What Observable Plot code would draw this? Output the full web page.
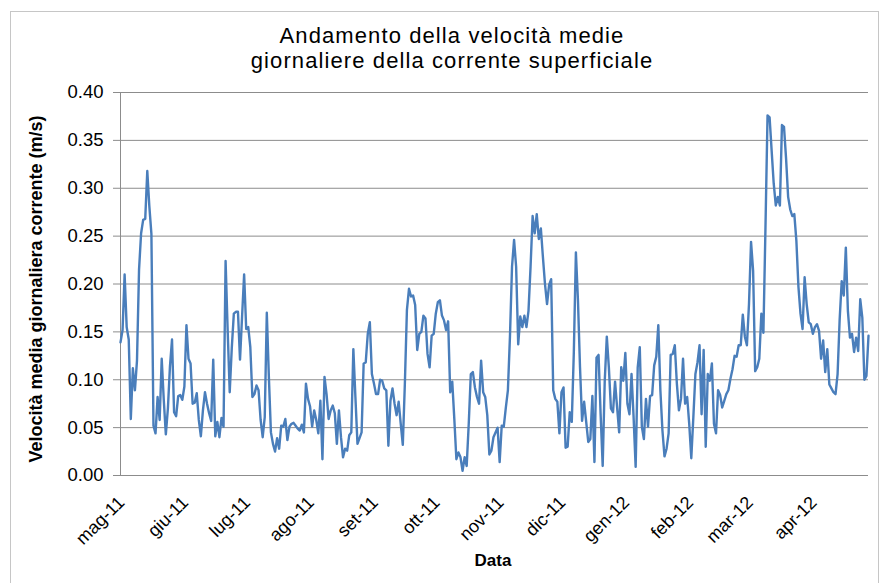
<!DOCTYPE html>
<html><head><meta charset="utf-8">
<script src="https://cdn.jsdelivr.net/npm/d3@7"></script>
<script src="https://cdn.jsdelivr.net/npm/@observablehq/plot@0.6"></script>
<style>
body{margin:0;background:#fff;font-family:"Liberation Sans",Arial,sans-serif;}
#wrap{position:relative;width:883px;height:583px;overflow:hidden;background:#fff}
#frame{position:absolute;left:10px;top:11px;width:869px;height:600px;border:1px solid #c6c6c6;box-sizing:border-box}
#title{position:absolute;left:0;width:904px;top:23px;text-align:center;font-size:22px;letter-spacing:1.1px;line-height:25px;color:#000}
#ylab{position:absolute;left:-164px;top:278px;width:400px;height:22px;line-height:22px;text-align:center;font-size:18px;font-weight:bold;transform:rotate(-90deg);transform-origin:200px 11px}
#xlab{position:absolute;left:443px;width:100px;top:551px;text-align:center;font-size:17px;font-weight:bold}
#chart{position:absolute;left:0;top:80px}
</style></head>
<body>
<div id="wrap">
  <div id="frame"></div>
  <div id="title">Andamento della velocità medie<br>giornaliere della corrente superficiale</div>
  <div id="chart"></div>
  <div id="ylab">Velocità media giornaliera corrente (m/s)</div>
  <div id="xlab">Data</div>
</div>
<script>
// daily mean surface-current speed (m/s), consecutive days from 1 May 2011
const startDate = Date.UTC(2011, 4, 1);
// May – end of June 2011
const v1 = [0.139,0.152,0.21,0.155,0.142,0.059,0.112,0.089,0.12,0.215,0.253,0.267,0.268,0.318,0.281,0.252,0.052,0.044,0.082,0.058,0.122,0.079,0.043,0.07,0.114,0.142,0.066,0.062,0.083,0.084,0.079,0.093,0.157,0.122,0.117,0.075,0.076,0.086,0.058,0.041,0.068,0.087,0.075,0.065,0.057,0.121,0.041,0.056,0.04,0.06,0.051,0.224,0.152,0.087,0.133,0.169,0.171,0.171,0.121,0.166,0.21];
// July – August 2011
const v2 = [0.153,0.155,0.134,0.082,0.085,0.094,0.089,0.058,0.04,0.061,0.17,0.103,0.045,0.033,0.025,0.039,0.028,0.052,0.051,0.059,0.037,0.051,0.054,0.055,0.052,0.049,0.047,0.053,0.045,0.096,0.08,0.072,0.051,0.068,0.058,0.044,0.078,0.017,0.103,0.085,0.059,0.068,0.073,0.065,0.033,0.068,0.04,0.019,0.028,0.026,0.042,0.045,0.132,0.082,0.033,0.039,0.045,0.117,0.118,0.148,0.16];
// September – October 2011
const v3 = [0.106,0.096,0.085,0.085,0.10,0.099,0.091,0.089,0.031,0.078,0.091,0.075,0.063,0.077,0.054,0.032,0.096,0.173,0.195,0.187,0.188,0.178,0.131,0.148,0.15,0.167,0.164,0.127,0.113,0.146,0.148,0.169,0.181,0.183,0.167,0.162,0.152,0.161,0.087,0.098,0.059,0.017,0.024,0.019,0.005,0.019,0.01,0.054,0.106,0.108,0.092,0.082,0.075,0.12,0.087,0.082,0.063,0.022,0.026,0.04,0.045];
// November – December 2011
const v4 = [0.05,0.014,0.052,0.051,0.071,0.089,0.145,0.218,0.246,0.218,0.137,0.166,0.155,0.167,0.155,0.172,0.218,0.271,0.253,0.273,0.247,0.258,0.228,0.20,0.179,0.199,0.205,0.089,0.08,0.077,0.044,0.087,0.092,0.029,0.03,0.066,0.056,0.129,0.233,0.183,0.113,0.057,0.077,0.056,0.035,0.038,0.083,0.014,0.123,0.126,0.064,0.01,0.099,0.145,0.113,0.07,0.066,0.098,0.071,0.045,0.113];
// January – February 2012
const v5 = [0.099,0.128,0.075,0.064,0.106,0.061,0.009,0.113,0.134,0.051,0.038,0.08,0.051,0.083,0.084,0.115,0.124,0.157,0.089,0.047,0.02,0.028,0.044,0.126,0.127,0.136,0.096,0.068,0.08,0.122,0.075,0.082,0.054,0.018,0.061,0.106,0.118,0.136,0.064,0.131,0.03,0.106,0.099,0.117,0.054,0.044,0.089,0.084,0.071,0.078,0.085,0.089,0.101,0.111,0.125,0.124,0.136,0.136,0.168,0.145,0.136];
// March – April 2012
const v6 = [0.179,0.244,0.214,0.109,0.113,0.122,0.169,0.149,0.259,0.376,0.374,0.339,0.305,0.282,0.291,0.282,0.366,0.364,0.331,0.291,0.278,0.271,0.273,0.245,0.197,0.169,0.153,0.207,0.179,0.16,0.158,0.148,0.155,0.158,0.151,0.122,0.141,0.108,0.132,0.095,0.091,0.087,0.085,0.106,0.163,0.203,0.188,0.238,0.172,0.144,0.148,0.129,0.144,0.13,0.184,0.165,0.10,0.104,0.146];

const monthNames = ["gen","feb","mar","apr","mag","giu","lug","ago","set","ott","nov","dic"];
const monthTicks = [[2011,4],[2011,5],[2011,6],[2011,7],[2011,8],[2011,9],[2011,10],[2011,11],[2012,0],[2012,1],[2012,2],[2012,3]];
const yTicks = [0,0.05,0.10,0.15,0.20,0.25,0.30,0.35,0.40];

const values = [...v1, ...v2, ...v3, ...v4, ...v5, ...v6];
const data = values.map((v, i) => ({date: new Date(startDate + i * 86400000), v}));
const tickDates = monthTicks.map(([y, m]) => new Date(Date.UTC(y, m, 1)));
const fmt = d => monthNames[d.getUTCMonth()] + "-" + String(d.getUTCFullYear()).slice(2);

const grid = "#8c8c8c";
const chart = Plot.plot({
  width: 883, height: 503,
  marginTop: 12, marginBottom: 108, marginLeft: 120, marginRight: 15,
  style: {fontFamily: '"Liberation Sans", Arial, sans-serif', background: "transparent", color: "#000"},
  x: {type: "utc", domain: [data[0].date, data[data.length - 1].date]},
  y: {domain: [0, 0.4]},
  marks: [
    Plot.gridY(yTicks, {stroke: grid, strokeOpacity: 1, strokeWidth: 1}),
    Plot.ruleX([data[0].date], {stroke: grid, strokeWidth: 1}),
    Plot.axisY(yTicks, {tickFormat: d3.format(".2f"), tickSize: 7, tickPadding: 10, fontSize: 18.5, stroke: grid, label: null}),
    Plot.axisX(tickDates, {tickFormat: fmt, tickRotate: -45, tickSize: 0, tickPadding: 20, fontSize: 18, label: null, dx: 1, dy: 4}),
    Plot.line(data, {x: "date", y: "v", stroke: "#4a7ebb", strokeWidth: 2.4, curve: "linear"})
  ]
});
document.getElementById("chart").appendChild(chart);
</script>
</body></html>
